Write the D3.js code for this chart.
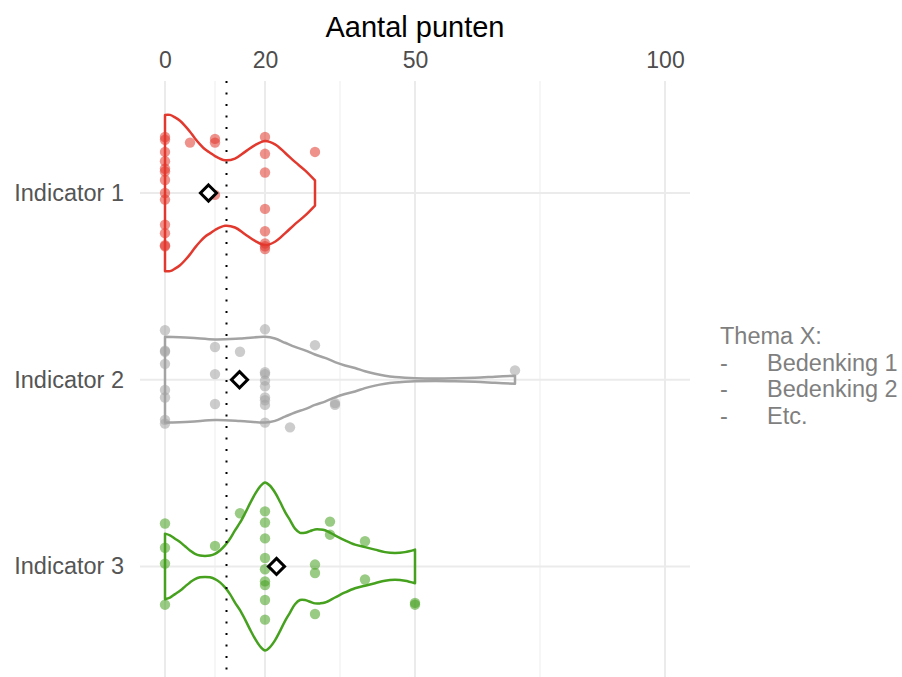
<!DOCTYPE html>
<html>
<head>
<meta charset="utf-8">
<script src="https://cdn.jsdelivr.net/npm/d3@7"></script>
<style>
  body { margin: 0; background: #fff; }
  svg { display: block; font-family: "Liberation Sans", Arial, sans-serif; }
</style>
</head>
<body>
<svg id="chart" width="902" height="677"></svg>
<script>

// categories (top to bottom) and their colours
let indicators = ["Indicator 1", "Indicator 2", "Indicator 3"];
let colours = ["#E2392E", "#A3A3A3", "#46A11F"];

// x axis
let xTicks = [0, 20, 50, 100];
let xMinor = [10, 35, 75];
let refLine = 12.3;          // dotted reference line
let means = [8.7, 14.9, 22.3];

// violin outlines: value (x) and relative density (half width)
let dens1_x = [0, 1, 2, 3, 4, 5, 6, 7, 8, 9, 10, 12, 14, 16, 18, 20, 22, 24, 26, 28, 30];
let dens1_y = [.93, .93, .90, .86, .80, .73, .65, .58, .52, .48, .44, .39, .41, .49, .57, .62, .58, .48, .37, .27, .15];

let dens2_x = [0, 5, 10, 15, 20, 22, 24, 26, 28, 30, 32, 34, 36, 38, 40, 42, 44, 46, 48, 50, 54, 58, 62, 66, 70];
let dens2_y = [.51, .50, .48, .49, .51, .49, .44, .39, .35, .30, .26, .21, .17, .14, .10, .07, .048, .033, .024, .018, .014, .017, .024, .036, .048];

let dens3_x = [0, 1, 2, 3, 4, 5, 6, 7, 8, 9, 10, 11, 12, 13, 14, 15, 16, 17, 18, 19, 20, 21, 22, 23, 24, 25, 26, 27, 28, 29, 30, 31, 32, 34, 36, 38, 40, 42, 44, 46, 48, 50];
let dens3_y = [.39, .37, .33, .29, .24, .19, .15, .13, .125, .13, .15, .19, .25, .33, .43, .52, .63, .75, .86, .95, 1.0, .96, .88, .77, .65, .55, .45, .40, .40, .42, .44, .44, .43, .37, .31, .26, .23, .20, .17, .16, .17, .20];

// points: value and vertical jitter (in category units)
let pts1_v = [0, 0, 0, 0, 0, 0, 0, 0, 0, 0, 0, 0, 0, 5, 10, 10, 10, 20, 20, 20, 20, 20, 20, 20, 20, 30];
let pts1_j = [-.30, -.285, -.22, -.17, -.13, -.115, -.07, 0, .035, .17, .215, .28, .285, -.27, -.29, -.27, .01, -.30, -.21, -.11, .085, .205, .27, .285, .30, -.22];

let pts2_v = [0, 0, 0, 0, 0, 0, 0, 0, 10, 10, 10, 15, 20, 20, 20, 20, 20, 20, 20, 20, 20, 25, 30, 34, 34, 70];
let pts2_j = [-.265, -.155, -.15, -.085, .055, .095, .215, .235, -.175, -.03, .13, -.15, -.27, -.04, -.03, .005, .035, .095, .11, .135, .23, .255, -.185, .125, .135, -.05];

let pts3_v = [0, 0, 0, 0, 10, 15, 20, 20, 20, 20, 20, 20, 20, 20, 20, 30, 30, 30, 33, 33, 40, 40, 50, 50];
let pts3_j = [-.23, -.10, -.015, .205, -.11, -.285, -.295, -.235, -.15, -.045, .015, .08, .10, .18, .285, -.01, .035, .255, -.24, -.17, -.135, .07, .195, .205];

let themeTitle = "Thema X:";
let themeItems = ["Bedenking 1", "Bedenking 2", "Etc."];

const svg = d3.select("#chart");
let margin = {top: 81, left: 140, right: 212};
let plotW = 902 - margin.left - margin.right;

let x = d3.scaleLinear().domain([-5, 105]).range([margin.left, margin.left + plotW]);
let step = 186.7;
let y = d3.scalePoint().domain(indicators).range([margin.top + 0.6 * step, margin.top + 2.6 * step]);
let panelBottom = margin.top + 3.2 * step;
let halfW = d3.scaleLinear().domain([0, 1]).range([0, 0.45 * step]);
let jit = d3.scaleLinear().domain([0, 1]).range([0, step]);

// grid
let grid = svg.append("g");
grid.selectAll(".minor").data(xMinor).enter().append("line")
    .attr("x1", d => x(d)).attr("x2", d => x(d))
    .attr("y1", margin.top).attr("y2", panelBottom)
    .attr("stroke", "#f0f0f0").attr("stroke-width", 1.2);
grid.selectAll(".major").data(xTicks).enter().append("line")
    .attr("x1", d => x(d)).attr("x2", d => x(d))
    .attr("y1", margin.top).attr("y2", panelBottom)
    .attr("stroke", "#ebebeb").attr("stroke-width", 2);
grid.selectAll(".hmaj").data(indicators).enter().append("line")
    .attr("x1", x(-5)).attr("x2", x(105))
    .attr("y1", d => y(d)).attr("y2", d => y(d))
    .attr("stroke", "#ebebeb").attr("stroke-width", 2);

// top axis
let xAxis = d3.axisTop(x).tickValues(xTicks).tickSize(0).tickPadding(0);
let gx = svg.append("g").attr("transform", "translate(0,68)").call(xAxis);
gx.select(".domain").remove();
gx.selectAll("text").attr("fill", "#4d4d4d").style("font-size", "23px");

svg.append("text").attr("x", x(50)).attr("y", 37)
    .attr("text-anchor", "middle").style("font-size", "29px").attr("fill", "#000")
    .text("Aantal punten");

// y labels
let yAxis = d3.axisLeft(y).tickSize(0).tickPadding(0);
let gy = svg.append("g").attr("transform", "translate(124,0)").call(yAxis);
gy.select(".domain").remove();
gy.selectAll("text").attr("fill", "#555").style("font-size", "23.5px");

// violins
let profiles = [
    {xs: dens1_x, ds: dens1_y},
    {xs: dens2_x, ds: dens2_y},
    {xs: dens3_x, ds: dens3_y}
];
profiles.forEach(function (p, i) {
    let cy = y(indicators[i]);
    let rows = p.xs.map((v, k) => ({v: v, d: p.ds[k]}));
    let area = d3.area()
        .x(d => x(d.v))
        .y0(d => cy - halfW(d.d))
        .y1(d => cy + halfW(d.d))
        .curve(d3.curveCatmullRom);
    svg.append("path").datum(rows)
        .attr("d", area)
        .attr("fill", "none")
        .attr("stroke", colours[i])
        .attr("stroke-width", 2.5)
        .attr("stroke-linejoin", "round");
});

// points
let pointSets = [[pts1_v, pts1_j], [pts2_v, pts2_j], [pts3_v, pts3_j]];
pointSets.forEach(function (s, i) {
    let cy = y(indicators[i]);
    let rows = s[0].map((v, k) => ({v: v, j: s[1][k]}));
    svg.append("g").selectAll("circle").data(rows).enter().append("circle")
        .attr("cx", d => x(d.v))
        .attr("cy", d => cy + jit(d.j))
        .attr("r", 5.2)
        .attr("fill", colours[i])
        .attr("opacity", 0.55);
});

// dotted reference line
svg.append("line")
    .attr("x1", x(refLine)).attr("x2", x(refLine))
    .attr("y1", margin.top).attr("y2", panelBottom)
    .attr("stroke", "#000").attr("stroke-width", 2)
    .attr("stroke-dasharray", "2,9.5").attr("stroke-linecap", "butt");

// mean markers
let diamond = d3.symbol().type(d3.symbolDiamond2).size(165);
svg.append("g").selectAll("path").data(means).enter().append("path")
    .attr("transform", (d, i) => `translate(${x(d)},${y(indicators[i])})`)
    .attr("d", diamond)
    .attr("fill", "#fff").attr("stroke", "#000").attr("stroke-width", 3);

// side note
let note = svg.append("g").attr("transform", "translate(720,0)").attr("fill", "#7f7f7f").style("font-size", "23.5px");
note.append("text").attr("x", 0).attr("y", 344).text(themeTitle);
themeItems.forEach(function (t, i) {
    note.append("text").attr("x", 0).attr("y", 370.5 + i * 26.5).text("-");
    note.append("text").attr("x", 47).attr("y", 370.5 + i * 26.5).text(t);
});
</script>
</body>
</html>
